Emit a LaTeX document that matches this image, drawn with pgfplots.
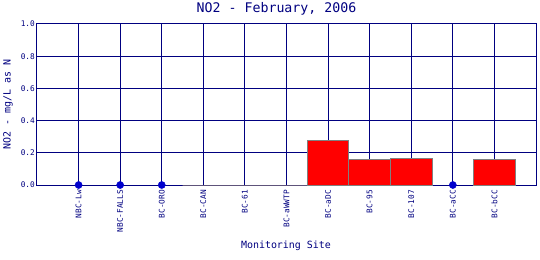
\documentclass[border=0pt]{standalone}
\usepackage{pgfplots}
\pgfplotsset{compat=1.18}
\usepackage{fontspec}
\setmainfont{DejaVu Sans Mono}
\definecolor{navy}{RGB}{0,0,128}
\definecolor{dotblue}{RGB}{0,0,205}
\begin{document}
\begin{tikzpicture}
\begin{axis}[
  at={(37bp,75bp)}, anchor=south west,
  scale only axis, width=499bp, height=161bp,
  xmin=-1, xmax=11, ymin=0, ymax=1,
  clip=false,
  xtick={0,1,2,3,4,5,6,7,8,9,10},
  xticklabels={NBC-Lw,NBC-FALLS,BC-ORO,BC-CAN,BC-61,BC-aWWTP,BC-aDC,BC-95,BC-107,BC-aCC,BC-bCC},
  xticklabel style={rotate=90, anchor=east, inner xsep=5bp, inner ysep=0pt, font=\fontsize{7.8}{8}\selectfont, text=navy},
  ytick={0,0.2,0.4,0.6,0.8,1.0},
  yticklabel style={anchor=east, inner sep=0pt, xshift=-2bp, font=\fontsize{7.8}{8}\selectfont, text=navy,
    /pgf/number format/.cd, fixed, fixed zerofill, precision=1, assume math mode=true},
  grid=major,
  major grid style={navy, line width=1bp},
  axis line style={navy, line width=1bp},
  major tick length=0pt,
  tick style={draw=none},
  title={NO2 - February, 2006},
  every axis title shift=0pt,
  title style={at={(axis description cs:0.48,1.093)}, anchor=center, yshift=0pt, inner sep=0pt, font=\fontsize{13.3}{14}\selectfont, text=navy},
  xlabel={Monitoring Site},
  xlabel style={at={(axis description cs:0.499,-0.379)}, anchor=center, inner sep=0pt, font=\fontsize{10}{10}\selectfont, text=navy},
  ylabel={NO2 - mg/L as N},
  ylabel style={at={(axis description cs:-0.058,0.5)}, anchor=center, inner sep=0pt, font=\fontsize{10}{10}\selectfont, text=navy},
]
\addplot[ybar, bar width=41.6bp, fill=red, draw=gray, line width=1bp]
  coordinates {(3,0) (4,0) (5,0) (6,0.275) (7,0.16) (8,0.166) (10,0.16)};
\addplot[only marks, mark=*, mark size=3.6pt, color=dotblue]
  coordinates {(0,0) (1,0) (2,0) (9,0)};
\end{axis}
\pgfresetboundingbox
\path[use as bounding box] (0,0) rectangle (540bp,260bp);
\end{tikzpicture}
\end{document}
